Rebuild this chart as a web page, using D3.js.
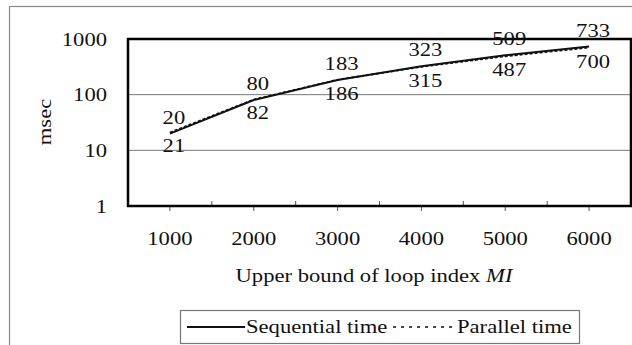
<!DOCTYPE html>
<html>
<head>
<meta charset="utf-8">
<style>
  body { margin: 0; background: #fff; }
  svg { display: block; }
  svg text { font-family: "Times New Roman", "Liberation Serif", "DejaVu Serif", serif; fill: #111; }
  .axis .domain { display: none; }
</style>
</head>
<body>
<div id="container"></div>
<script src="https://cdnjs.cloudflare.com/ajax/libs/d3/7.8.5/d3.min.js"></script>
<script>
var categories = [1000, 2000, 3000, 4000, 5000, 6000];
var sequential = [20, 80, 183, 323, 509, 733];
var parallel = [21, 82, 186, 315, 487, 700];
var yTicks = [1, 10, 100, 1000];
var seriesNames = ["Sequential time", "Parallel time"];

var W = 632, H = 345;
var margin = {top: 39, right: 1, bottom: 139, left: 128};
var width = W - margin.left - margin.right,
    height = H - margin.top - margin.bottom;
var fs = 19.5, sx = 1.16;

// the scanned chart's type is a bit wide: stretch text horizontally round its anchor
function stretch(sel) {
  sel.each(function() {
    var t = d3.select(this), ax = +(t.attr("x") || 0);
    t.attr("transform", "translate(" + ax + ",0) scale(" + sx + ",1) translate(" + (-ax) + ",0)");
  });
}

var svg = d3.select("#container").append("svg")
    .attr("width", W).attr("height", H);

// outer frame
svg.append("rect")
    .attr("x", 9.5).attr("y", 6.5)
    .attr("width", 640).attr("height", 360)
    .attr("fill", "none").attr("stroke", "#8a8a8a").attr("stroke-width", 1.2);

var g = svg.append("g").attr("transform", "translate(" + margin.left + "," + margin.top + ")");

var x = d3.scaleBand().domain(categories).range([0, width]);
var y = d3.scaleLog().domain([1, 1000]).range([height, 0]);
var cx = function(d) { return x(d) + x.bandwidth() / 2; };

// gridlines
g.append("g").selectAll("line")
    .data(yTicks.slice(1, 3))
    .enter().append("line")
    .attr("x1", 0).attr("x2", width)
    .attr("y1", function(d) { return y(d); }).attr("y2", function(d) { return y(d); })
    .attr("stroke", "#777").attr("stroke-width", 1);

// y axis labels
g.append("g")
    .attr("class", "axis")
    .attr("transform", "translate(-8,0)")
    .call(d3.axisLeft(y).tickValues(yTicks).tickFormat(d3.format("d")).tickSize(0).tickPadding(13))
    .call(function(a) { a.selectAll("text").attr("font-size", fs).call(stretch); });

// x axis: tick marks at centres (outward) and band boundaries (inward)
g.append("g")
    .attr("class", "axis")
    .attr("transform", "translate(0," + height + ")")
    .call(d3.axisBottom(x).tickSize(5).tickPadding(20))
    .call(function(a) {
      a.selectAll("text").attr("font-size", fs).call(stretch);
      a.selectAll(".tick line").attr("stroke", "#555");
    });

g.append("g").selectAll("line")
    .data(categories.slice(1))
    .enter().append("line")
    .attr("x1", function(d) { return x(d); }).attr("x2", function(d) { return x(d); })
    .attr("y1", height).attr("y2", height - 5)
    .attr("stroke", "#555");

// lines
var line = d3.line()
    .x(function(d, i) { return cx(categories[i]); })
    .y(function(d) { return y(d); });

g.append("path")
    .datum(parallel)
    .attr("d", line)
    .attr("fill", "none").attr("stroke", "#111").attr("stroke-width", 1.6)
    .attr("stroke-dasharray", "3,2");

g.append("path")
    .datum(sequential)
    .attr("d", line)
    .attr("fill", "none").attr("stroke", "#111").attr("stroke-width", 2);

// plot border
g.append("rect")
    .attr("x", 0).attr("y", 0).attr("width", width).attr("height", height)
    .attr("fill", "none").attr("stroke", "#000").attr("stroke-width", 2.5);

// data labels
g.append("g").selectAll("text")
    .data(sequential)
    .enter().append("text")
    .attr("x", function(d, i) { return cx(categories[i]) + 4; })
    .attr("y", function(d) { return y(d) - 10; })
    .attr("text-anchor", "middle")
    .attr("font-size", fs)
    .text(function(d) { return d; })
    .call(stretch);

g.append("g").selectAll("text")
    .data(parallel)
    .enter().append("text")
    .attr("x", function(d, i) { return cx(categories[i]) + 4; })
    .attr("y", function(d) { return y(d) + 20; })
    .attr("text-anchor", "middle")
    .attr("font-size", fs)
    .text(function(d) { return d; })
    .call(stretch);

// y axis title
svg.append("text")
    .attr("transform", "translate(51,122) rotate(-90) scale(" + sx + ",1)")
    .attr("text-anchor", "middle")
    .attr("font-size", fs)
    .text("msec");

// x axis title
var xt = svg.append("text")
    .attr("x", 374).attr("y", 282)
    .attr("text-anchor", "middle")
    .attr("font-size", fs);
xt.append("tspan").text("Upper bound of loop index ");
xt.append("tspan").attr("font-style", "italic").text("MI");
xt.call(stretch);

// legend
var legend = svg.append("g").attr("transform", "translate(180,310)");
legend.append("rect")
    .attr("x", 0.5).attr("y", 0.5).attr("width", 399).attr("height", 33)
    .attr("fill", "#fff").attr("stroke", "#777").attr("stroke-width", 1.2);
legend.append("line")
    .attr("x1", 7).attr("x2", 65).attr("y1", 17).attr("y2", 17)
    .attr("stroke", "#111").attr("stroke-width", 2);
legend.append("text")
    .attr("x", 66).attr("y", 23)
    .attr("font-size", fs)
    .text(seriesNames[0])
    .call(stretch);
legend.append("line")
    .attr("x1", 213).attr("x2", 273).attr("y1", 17).attr("y2", 17)
    .attr("stroke", "#111").attr("stroke-width", 1.6).attr("stroke-dasharray", "3,5");
legend.append("text")
    .attr("x", 277).attr("y", 23)
    .attr("font-size", fs)
    .text(seriesNames[1])
    .call(stretch);
</script>
</body>
</html>
